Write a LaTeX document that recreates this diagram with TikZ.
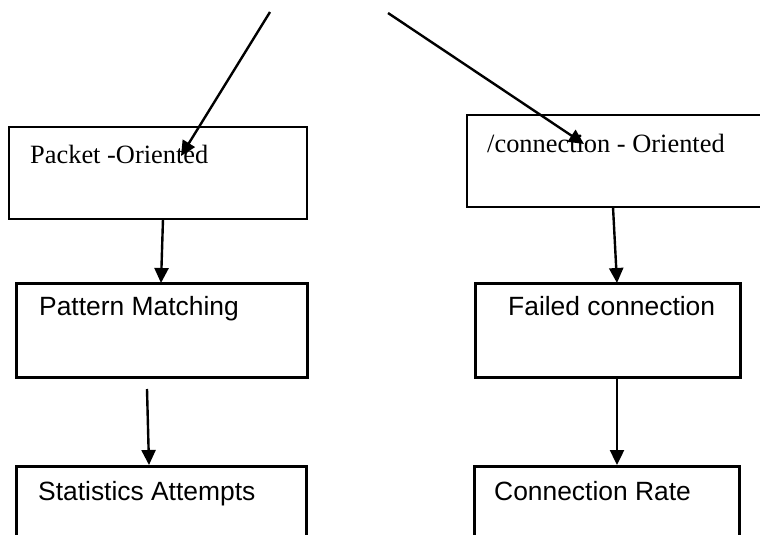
\documentclass[tikz,border=0pt]{standalone}
\usepackage{fontspec}
\setmainfont{Liberation Serif}
\newfontfamily\arialfont{Liberation Sans}
\usetikzlibrary{arrows.meta}
\begin{document}
\begin{tikzpicture}[x=1pt,y=-1pt,
  thinbox/.style={draw=black,line width=1.8pt,rectangle,anchor=north west,inner sep=0pt,outer sep=0pt},
  thickbox/.style={draw=black,line width=3pt,rectangle,anchor=north west,inner sep=0pt,outer sep=0pt},
  serlabel/.style={anchor=base west,inner sep=0pt,font=\fontsize{26.4}{30}\selectfont},
  sanslabel/.style={anchor=base west,inner sep=0pt,font=\arialfont\fontsize{26.4}{30}\selectfont},
  arr/.style={line width=2.4pt,-{Triangle[length=15pt,width=14pt]}}]
\useasboundingbox (0,0) rectangle (760,535);
\clip (0,0) rectangle (760,535);
% boxes
\node[thinbox,minimum width=298pt,minimum height=92pt] (b1) at (9,127) {};
\node[thinbox,minimum width=310pt,minimum height=92pt] (b2) at (467,115) {};
\node[thickbox,minimum width=291pt,minimum height=94pt] (b3) at (16,283) {};
\node[thickbox,minimum width=265pt,minimum height=94pt] (b4) at (475,283) {};
\node[thickbox,minimum width=290pt,minimum height=100pt] (b5) at (16,466) {};
\node[thickbox,minimum width=265pt,minimum height=100pt] (b6) at (474,466) {};
% labels
\node[serlabel] (t1) at (30,163) {Packet -Oriented};
\node[serlabel] (t2) at (487,152) {/connection - Oriented};
\node[sanslabel] (t3) at (39,315) {Pattern Matching};
\node[sanslabel] (t4) at (508,315) {Failed connection};
\node[sanslabel] (t5) at (38,500) {Statistics Attempts};
\node[sanslabel] (t6) at (494,500) {Connection Rate};
% arrow endpoints
\coordinate (s1) at (270,12);
\coordinate (e1) at (181,156);
\coordinate (s2) at (388,13);
\coordinate (e2) at (584,144);
\coordinate (s3) at (163,219);
\coordinate (e3) at (161,283);
\coordinate (s4) at (147,389);
\coordinate (e4) at (149,465);
\coordinate (s5) at (613,207);
\coordinate (e5) at (617,283);
\coordinate (s6) at (617,377);
\coordinate (e6) at (617,465);
% arrows
\draw[arr] (s1) -- (e1);
\draw[arr] (s2) -- (e2);
\draw[arr] (s3) -- (e3);
\draw[arr] (s4) -- (e4);
\draw[arr] (s5) -- (e5);
\draw[arr] (s6) -- (e6);
\end{tikzpicture}
\end{document}
